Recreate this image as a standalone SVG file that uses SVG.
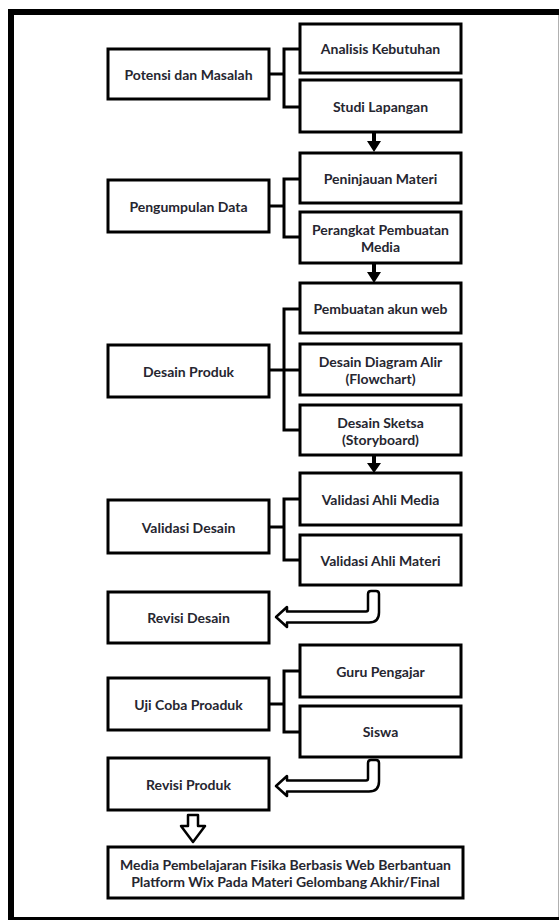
<svg xmlns="http://www.w3.org/2000/svg" width="559" height="920" viewBox="0 0 559 920">
<style>
.box{fill:#fff;stroke:#000;stroke-width:3}
.t{font-family:Lato,"Open Sans","Liberation Sans",sans-serif;font-weight:bold;font-size:14px;fill:#262630;text-anchor:middle;dominant-baseline:central}
.c{fill:none;stroke:#000;stroke-width:3}
.ha{fill:#fff;stroke:#000;stroke-width:2.5;stroke-linejoin:round}
.sa{fill:#000;stroke:none}
</style>
<rect x="0" y="0" width="559" height="920" fill="#fff"/>
<rect x="11" y="12" width="562" height="908" fill="none" stroke="#000" stroke-width="6"/>
<line x1="558.5" y1="15" x2="558.5" y2="917" stroke="#b0b0b0" stroke-width="1"/>

<g id="connectors">
<polyline class="c" points="269,74 284,74"/><polyline class="c" points="300,49 284,49 284,107 300,107"/>
<polyline class="c" points="269,206 284,206"/><polyline class="c" points="300,179 284,179 284,237 300,237"/>
<polyline class="c" points="269,370 284,370"/><polyline class="c" points="300,309 284,309 284,430 300,430"/><polyline class="c" points="284,370 300,370"/>
<polyline class="c" points="269,527 284,527"/><polyline class="c" points="300,499 284,499 284,560 300,560"/>
<polyline class="c" points="269,704 284,704"/><polyline class="c" points="300,671 284,671 284,732 300,732"/>
<path class="sa" d="M372,133 L376,133 L376,141 L381,141 L374,152 L367,141 L372,141 Z"/>
<path class="sa" d="M372,264 L376,264 L376,272 L381,272 L374,283 L367,272 L372,272 Z"/>
<path class="sa" d="M372,456 L376,456 L376,463 L381,463 L374,473 L367,463 L372,463 Z"/>
<path class="ha" d="M368,594 Q368,591 371,591 L376,591 Q379,591 379,594 L379,612.5 Q379,622.5 369,622.5 L287,622.5 L287,627 L276,617 L287,607 L287,611.5 L366,611.5 Q368,611.5 368,609.5 Z"/>
<path class="ha" d="M368,763 Q368,760 371,760 L376,760 Q379,760 379,763 L379,781.5 Q379,791.5 369,791.5 L287,791.5 L287,796 L276,786 L287,776 L287,780.5 L366,780.5 Q368,780.5 368,778.5 Z"/>
<path class="ha" d="M188,815 L198,815 L198,826 L205,826 L193,842 L181,826 L188,826 Z"/>
</g>

<g id="n1"><rect class="box" x="108" y="49" width="161" height="50"/><text class="t" x="188.5" y="74">Potensi dan Masalah</text></g>
<g id="n1a"><rect class="box" x="300" y="24" width="161" height="49"/><text class="t" x="380.5" y="48.5">Analisis Kebutuhan</text></g>
<g id="n1b"><rect class="box" x="300" y="80" width="161" height="52"/><text class="t" x="380.5" y="106">Studi Lapangan</text></g>

<g id="n2"><rect class="box" x="108" y="180" width="161" height="52"/><text class="t" x="188.5" y="206">Pengumpulan Data</text></g>
<g id="n2a"><rect class="box" x="300" y="153" width="161" height="50"/><text class="t" x="380.5" y="178">Peninjauan Materi</text></g>
<g id="n2b"><rect class="box" x="300" y="212" width="161" height="51"/><text class="t" x="380.5" y="229">Perangkat Pembuatan</text><text class="t" x="380.5" y="246.5">Media</text></g>

<g id="n3"><rect class="box" x="108" y="345" width="161" height="52"/><text class="t" x="188.5" y="371">Desain Produk</text></g>
<g id="n3a"><rect class="box" x="300" y="283" width="161" height="50"/><text class="t" x="380.5" y="308">Pembuatan akun web</text></g>
<g id="n3b"><rect class="box" x="300" y="344" width="161" height="51"/><text class="t" x="380.5" y="361">Desain Diagram Alir</text><text class="t" x="380.5" y="378.5">(Flowchart)</text></g>
<g id="n3c"><rect class="box" x="300" y="405" width="161" height="50"/><text class="t" x="380.5" y="422">Desain Sketsa</text><text class="t" x="380.5" y="439.5">(Storyboard)</text></g>

<g id="n4"><rect class="box" x="108" y="500" width="161" height="53"/><text class="t" x="188.5" y="527">Validasi Desain</text></g>
<g id="n4a"><rect class="box" x="300" y="473" width="161" height="52"/><text class="t" x="380.5" y="499">Validasi Ahli Media</text></g>
<g id="n4b"><rect class="box" x="300" y="535" width="161" height="50"/><text class="t" x="380.5" y="560">Validasi Ahli Materi</text></g>

<g id="n5"><rect class="box" x="108" y="592" width="161" height="51"/><text class="t" x="188.5" y="617">Revisi Desain</text></g>

<g id="n6"><rect class="box" x="108" y="678" width="161" height="52"/><text class="t" x="188.5" y="704">Uji Coba Proaduk</text></g>
<g id="n6a"><rect class="box" x="300" y="645" width="161" height="52"/><text class="t" x="380.5" y="671">Guru Pengajar</text></g>
<g id="n6b"><rect class="box" x="300" y="706" width="161" height="51"/><text class="t" x="380.5" y="731.5">Siswa</text></g>

<g id="n7"><rect class="box" x="108" y="758" width="161" height="52"/><text class="t" x="188.5" y="784">Revisi Produk</text></g>

<g id="n8"><rect class="box" x="108" y="847" width="355" height="51"/><text class="t" x="285.5" y="864">Media Pembelajaran Fisika Berbasis Web Berbantuan</text><text class="t" x="285.5" y="881.5">Platform Wix Pada Materi Gelombang Akhir/Final</text></g>
</svg>
